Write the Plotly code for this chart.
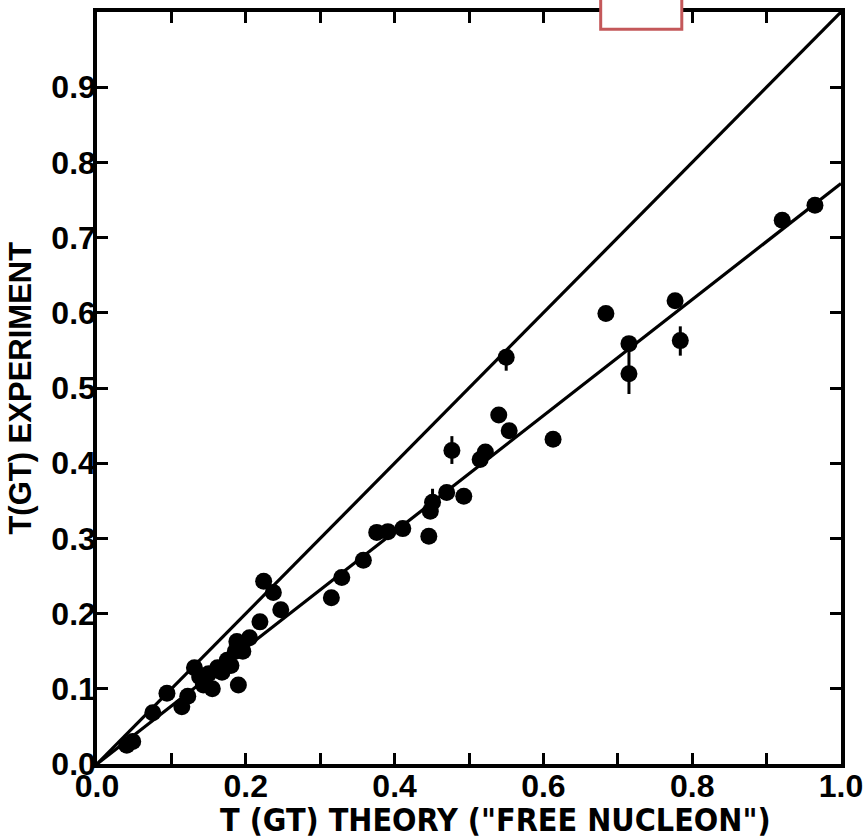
import plotly.graph_objects as go

# Gamow-Teller strength: "free nucleon" theory vs experiment
t_theory = [
    0.040, 0.048, 0.075, 0.094, 0.114, 0.122, 0.131, 0.138, 0.143, 0.150,
    0.155, 0.162, 0.168, 0.175, 0.180, 0.186, 0.188, 0.190, 0.196, 0.205,
    0.219, 0.224, 0.237, 0.247, 0.315, 0.329, 0.358, 0.376, 0.391, 0.411,
    0.446, 0.448, 0.451, 0.470, 0.477, 0.493, 0.515, 0.522, 0.540, 0.554,
    0.550, 0.613, 0.684, 0.715, 0.715, 0.777, 0.784, 0.921, 0.965,
]
t_experiment = [
    0.025, 0.030, 0.068, 0.094, 0.076, 0.090, 0.128, 0.116, 0.105, 0.120,
    0.100, 0.128, 0.122, 0.138, 0.131, 0.150, 0.163, 0.105, 0.150, 0.168,
    0.189, 0.243, 0.228, 0.205, 0.221, 0.248, 0.271, 0.308, 0.309, 0.313,
    0.303, 0.336, 0.348, 0.361, 0.417, 0.356, 0.405, 0.415, 0.464, 0.443,
    0.541, 0.432, 0.599, 0.559, 0.519, 0.616, 0.563, 0.723, 0.743,
]
err_plus = [0.0] * len(t_theory)
err_minus = [0.0] * len(t_theory)
# (index, +err, -err) for points carrying error bars
error_bars = [(32, 0.018, 0.0), (34, 0.019, 0.018), (40, 0.0, 0.018),
              (44, 0.040, 0.027), (46, 0.019, 0.020)]
for i, up, down in error_bars:
    err_plus[i] = up
    err_minus[i] = down

# Reference lines: unit slope and the quenched fit
line_x = [0.0, 1.0]
unit_y = [0.0, 1.0]
fit_slope = 0.772
fit_y = [v * fit_slope for v in line_x]

x_ticks = [0.0, 0.1, 0.2, 0.3, 0.4, 0.5, 0.6, 0.7, 0.8, 0.9, 1.0]
x_text = ["0.0", "", "0.2", "", "0.4", "", "0.6", "", "0.8", "", "1.0"]
y_ticks = [0.0, 0.1, 0.2, 0.3, 0.4, 0.5, 0.6, 0.7, 0.8, 0.9]
y_text = ["0.0", "0.1", "0.2", "0.3", "0.4", "0.5", "0.6", "0.7", "0.8", "0.9"]

fig = go.Figure()
fig.add_trace(go.Scatter(x=line_x, y=unit_y, mode="lines",
                         line=dict(color="black", width=3.2), showlegend=False))
fig.add_trace(go.Scatter(x=line_x, y=fit_y, mode="lines",
                         line=dict(color="black", width=3.2), showlegend=False))
fig.add_trace(go.Scatter(
    x=t_theory, y=t_experiment, mode="markers",
    marker=dict(color="black", size=17),
    error_y=dict(type="data", symmetric=False, array=err_plus,
                 arrayminus=err_minus, color="black", thickness=3, width=0),
    showlegend=False,
))

tick_font = dict(family="Liberation Sans", size=32, color="black",
                 weight="bold")
axis_common = dict(
    showgrid=False, zeroline=False, showline=True, linecolor="black",
    linewidth=3.5, mirror="ticks", ticks="inside", ticklen=11, tickwidth=2.5,
    tickcolor="black", tickfont=tick_font, ticklabeloverflow="allow",
)
fig.update_xaxes(range=[0, 1.0], tickmode="array", tickvals=x_ticks,
                 ticktext=x_text, ticklabelstandoff=-9, **axis_common)
fig.update_yaxes(range=[0, 1.0], tickmode="array", tickvals=y_ticks,
                 ticktext=y_text, ticklabelstandoff=-9, **axis_common)

fig.add_annotation(text='T (GT) THEORY ("FREE NUCLEON")', xref="paper",
                   yref="paper", x=0.536, y=-0.075, yanchor="middle",
                   showarrow=False,
                   font=dict(family="DejaVu Sans Condensed, Liberation Sans",
                             size=32, color="black", weight="bold"))
fig.add_annotation(text="T(GT) EXPERIMENT", xref="paper", yref="paper",
                   x=-0.104, y=0.5, textangle=-90, xanchor="center",
                   showarrow=False,
                   font=dict(family="Liberation Sans", size=31,
                             color="black", weight="bold"))

# Boxed marker straddling the top frame
fig.add_shape(type="rect", xref="paper", yref="paper",
              x0=0.677, x1=0.786, y0=0.977, y1=1.02,
              line=dict(color="#c4585a", width=3), fillcolor="white")

fig.update_layout(
    width=863, height=838,
    margin=dict(l=97, r=22, t=12, b=74, autoexpand=False),
    paper_bgcolor="white", plot_bgcolor="white",
)

fig.write_html("out.html")
